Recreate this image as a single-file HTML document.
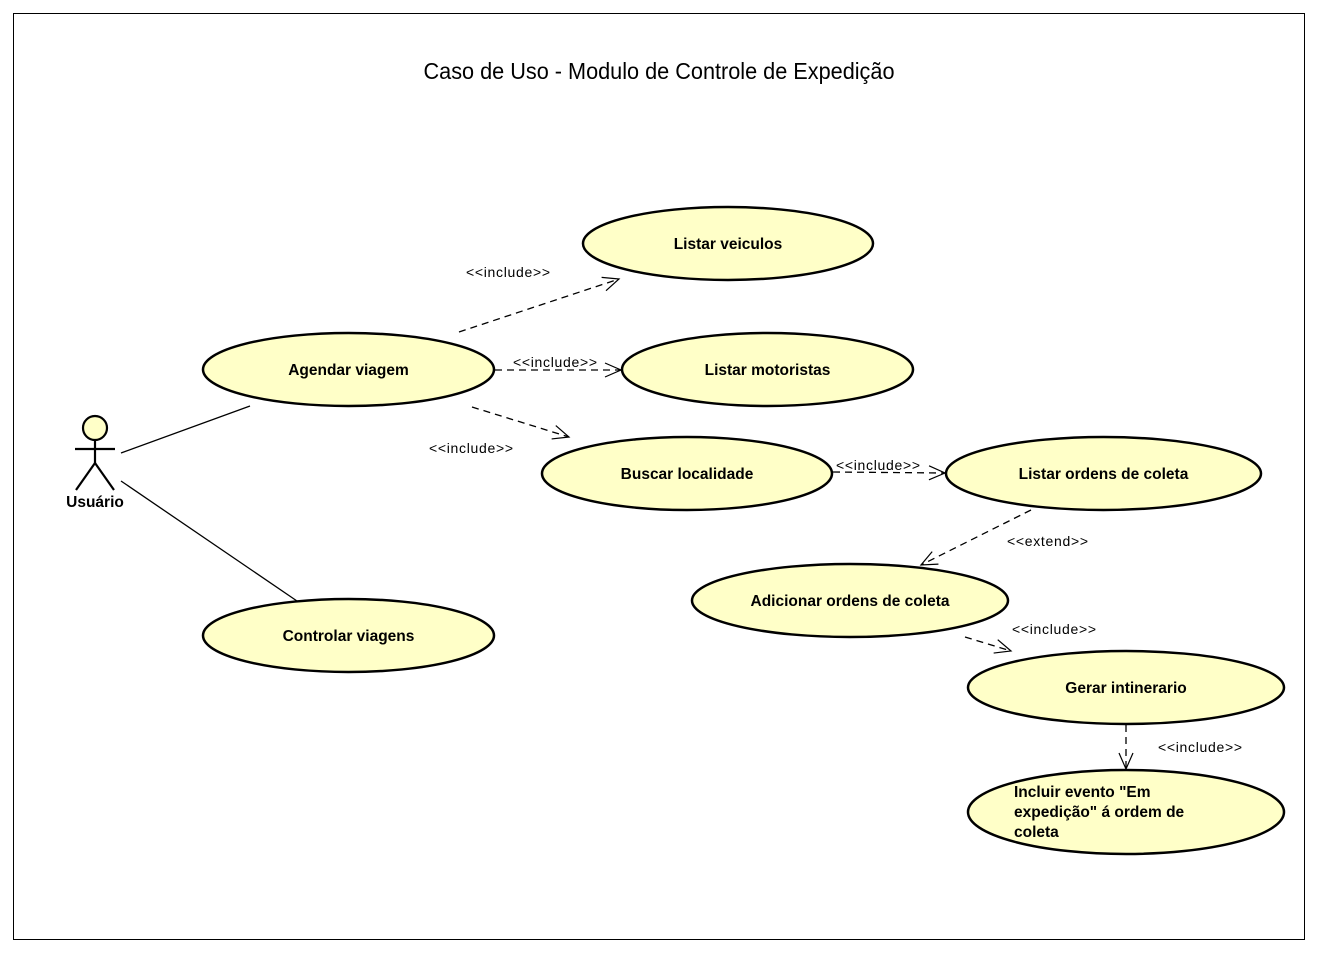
<!DOCTYPE html>
<html><head><meta charset="utf-8"><style>
html,body{margin:0;padding:0;background:#fff;}
svg{display:block;}
text{font-family:"Liberation Sans",sans-serif;}
.b{font-weight:bold;font-size:15.5px;}
.l{font-size:14px;}
</style></head><body>
<svg width="1317" height="953" viewBox="0 0 1317 953" xmlns="http://www.w3.org/2000/svg">
<defs>
<marker id="a" markerWidth="20" markerHeight="20" refX="17" refY="8" orient="auto" markerUnits="userSpaceOnUse">
<path d="M1,1 L17,8 L1,15" fill="none" stroke="#000" stroke-width="1.2"/>
</marker>
</defs>
<rect x="13.5" y="13.5" width="1291" height="926" fill="#fff" stroke="#000" stroke-width="1"/>
<text x="659" y="79" font-size="23" text-anchor="middle" textLength="471" lengthAdjust="spacingAndGlyphs">Caso de Uso - Modulo de Controle de Expedição</text>

<g fill="#ffffc8" stroke="#000" stroke-width="2.5">
<ellipse cx="728" cy="243.5" rx="145" ry="36.5"/>
<ellipse cx="348.5" cy="369.5" rx="145.5" ry="36.5"/>
<ellipse cx="767.5" cy="369.5" rx="145.5" ry="36.5"/>
<ellipse cx="687" cy="473.5" rx="145" ry="36.5"/>
<ellipse cx="1103.5" cy="473.5" rx="157.5" ry="36.5"/>
<ellipse cx="850" cy="600.5" rx="158" ry="36.5"/>
<ellipse cx="348.5" cy="635.5" rx="145.5" ry="36.5"/>
<ellipse cx="1126" cy="687.5" rx="158" ry="36.5"/>
<ellipse cx="1126" cy="812" rx="158" ry="42"/>
</g>

<g class="b" text-anchor="middle">
<text x="728" y="249">Listar veiculos</text>
<text x="348.5" y="375">Agendar viagem</text>
<text x="767.5" y="375">Listar motoristas</text>
<text x="687" y="479">Buscar localidade</text>
<text x="1103.5" y="479">Listar ordens de coleta</text>
<text x="850" y="606">Adicionar ordens de coleta</text>
<text x="348.5" y="641">Controlar viagens</text>
<text x="1126" y="693">Gerar intinerario</text>
</g>
<g class="b">
<text x="1014" y="797">Incluir evento "Em</text>
<text x="1014" y="817">expedição" á ordem de</text>
<text x="1014" y="837">coleta</text>
</g>

<g fill="none" stroke="#000" stroke-width="2.2">
<circle cx="95" cy="428" r="12" fill="#ffffc8"/>
<line x1="95" y1="440" x2="95" y2="463"/>
<line x1="75" y1="449" x2="115" y2="449"/>
<line x1="95" y1="463" x2="76" y2="490"/>
<line x1="95" y1="463" x2="114" y2="490"/>
</g>
<text x="95" y="507" class="b" text-anchor="middle">Usuário</text>

<g stroke="#000" stroke-width="1.3">
<line x1="121" y1="453" x2="250" y2="406"/>
<line x1="121" y1="481" x2="297" y2="601"/>
</g>

<g stroke="#000" stroke-width="1.3" stroke-dasharray="7,5" fill="none" marker-end="url(#a)">
<line x1="459" y1="332" x2="619" y2="279"/>
<line x1="495" y1="370" x2="621" y2="370"/>
<line x1="472" y1="407" x2="569" y2="437"/>
<line x1="833" y1="472" x2="945" y2="473"/>
<line x1="1031" y1="510" x2="921" y2="565"/>
<line x1="965" y1="637" x2="1011" y2="651"/>
<line x1="1126" y1="725" x2="1126" y2="769"/>
</g>

<g class="l" lengthAdjust="spacingAndGlyphs">
<text x="466" y="277" textLength="84">&lt;&lt;include&gt;&gt;</text>
<text x="513" y="367" textLength="84">&lt;&lt;include&gt;&gt;</text>
<text x="429" y="453" textLength="84">&lt;&lt;include&gt;&gt;</text>
<text x="836" y="470" textLength="84">&lt;&lt;include&gt;&gt;</text>
<text x="1007" y="546" textLength="81">&lt;&lt;extend&gt;&gt;</text>
<text x="1012" y="634" textLength="84">&lt;&lt;include&gt;&gt;</text>
<text x="1158" y="752" textLength="84">&lt;&lt;include&gt;&gt;</text>
</g>
</svg>
</body></html>
